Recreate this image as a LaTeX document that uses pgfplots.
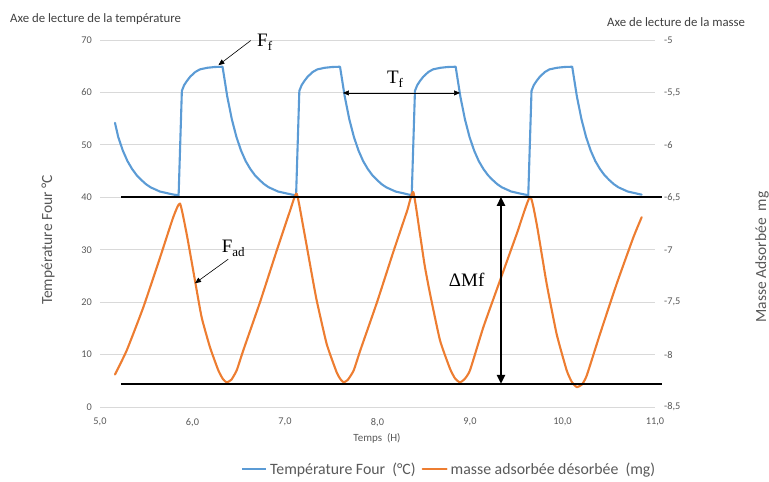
\documentclass[border=0pt]{standalone}
\usepackage{pgfplots}
\pgfplotsset{compat=1.18}
\usepackage{fontspec}
\setmainfont{Carlito}
\newfontfamily\tnr{Liberation Serif}
\usetikzlibrary{arrows.meta}
\definecolor{cblue}{HTML}{5B9BD5}
\definecolor{corange}{HTML}{ED7D31}
\definecolor{tgray}{HTML}{595959}
\definecolor{dgray}{HTML}{404040}
\definecolor{ggray}{HTML}{D9D9D9}
\begin{document}
\begin{tikzpicture}
\useasboundingbox (0,0) rectangle (769pt,482pt);
\begin{axis}[
 at={(100pt,75pt)}, anchor=south west,
 scale only axis, width=555pt, height=367pt,
 xmin=5, xmax=11, ymin=0, ymax=70,
 clip=false,
 axis line style={draw=none},
 major tick length=0pt,
 xtick={5,6,7,8,9,10,11},
 xticklabels={{5,0},{6,0},{7,0},{8,0},{9,0},{10,0},{11,0}},
 ytick={0,10,20,30,40,50,60,70},
 yticklabels={0,10,20,30,40,50,60,70},
 ymajorgrids, grid style={ggray, line width=0.75pt},
 ticklabel style={font=\fontsize{10.3}{12}\selectfont, text=tgray},
 yticklabel style={anchor=east, inner sep=0pt, xshift=-8pt},
 xticklabel style={anchor=north, inner sep=0pt, yshift=-11pt},
]
\addplot[cblue, line width=2.1pt, line join=round, line cap=round] coordinates {
(5.162,54.2) (5.197,51.5) (5.247,48.9) (5.297,46.9) (5.347,45.4) (5.397,44.2) (5.447,43.3) (5.497,42.5) (5.547,41.9) (5.647,41.1) (5.747,40.7) (5.80,40.5)
(5.85,40.4) (5.885,60.3) (5.91,61.4) (5.94,62.2) (5.975,63.0) (6.03,63.9) (6.08,64.4) (6.16,64.7) (6.24,64.85) (6.325,64.9)
(6.375,59.3) (6.425,54.9) (6.475,51.5) (6.525,48.9) (6.575,46.9) (6.625,45.4) (6.675,44.2) (6.725,43.3) (6.775,42.5) (6.825,41.9) (6.925,41.1) (7.025,40.7) (7.08,40.5)
(7.12,40.4) (7.155,60.3) (7.18,61.4) (7.21,62.2) (7.245,63.0) (7.30,63.9) (7.35,64.4) (7.43,64.7) (7.51,64.85) (7.595,64.9)
(7.645,59.3) (7.695,54.9) (7.745,51.5) (7.795,48.9) (7.845,46.9) (7.895,45.4) (7.945,44.2) (7.995,43.3) (8.045,42.5) (8.095,41.9) (8.195,41.1) (8.295,40.7) (8.34,40.5)
(8.37,40.4) (8.405,60.3) (8.43,61.4) (8.46,62.2) (8.495,63.0) (8.55,63.9) (8.60,64.4) (8.68,64.7) (8.76,64.85) (8.845,64.9)
(8.895,59.3) (8.945,54.9) (8.995,51.5) (9.045,48.9) (9.095,46.9) (9.145,45.4) (9.195,44.2) (9.245,43.3) (9.295,42.5) (9.345,41.9) (9.445,41.1) (9.545,40.7) (9.60,40.5)
(9.63,40.4) (9.665,60.3) (9.69,61.4) (9.72,62.2) (9.755,63.0) (9.81,63.9) (9.86,64.4) (9.94,64.7) (10.02,64.85) (10.105,64.9)
(10.155,59.3) (10.205,54.9) (10.255,51.5) (10.305,48.9) (10.355,46.9) (10.405,45.4) (10.455,44.2) (10.505,43.3) (10.555,42.5) (10.605,41.9) (10.705,41.1) (10.805,40.7) (10.856,40.5)
};
\end{axis}
\begin{axis}[
 at={(100pt,75pt)}, anchor=south west,
 scale only axis, width=555pt, height=367pt,
 xmin=5, xmax=11, ymin=-8.5, ymax=-5,
 clip=false,
 hide x axis,
 axis line style={draw=none},
 major tick length=0pt,
 yticklabel pos=right,
 ytick={-8.5,-8,-7.5,-7,-6.5,-6,-5.5,-5},
 yticklabels={{-8,5},{-8},{-7,5},{-7},{-6,5},{-6},{-5,5},{-5}},
 ticklabel style={font=\fontsize{10.3}{12}\selectfont, text=tgray},
 yticklabel style={anchor=west, inner sep=0pt, xshift=9pt},
 legend columns=2,
 legend cell align=left,
 legend image code/.code={\draw[#1] (0pt,0pt) -- (24pt,0pt);},
 legend style={at={(0.629,-0.169)}, anchor=center, draw=none, fill=none,
   font=\fontsize{15.8}{18}\selectfont, text=tgray,
   /tikz/every odd column/.append style={column sep=1pt},
   /tikz/every even column/.append style={column sep=4pt}},
]
\addlegendimage{cblue, line width=2.1pt}
\addlegendentry{Température Four\ \ (°C)}
\addplot[corange, line width=2.1pt, line join=round, line cap=round, smooth, tension=0.3] coordinates {
(5.162,-8.19) (5.289,-7.96) (5.468,-7.55) (5.649,-7.075) (5.792,-6.69) (5.865,-6.56)
(5.937,-6.85) (6.027,-7.295) (6.099,-7.645) (6.189,-7.93) (6.279,-8.15) (6.33,-8.235) (6.37,-8.265) (6.42,-8.24)
(6.478,-8.15) (6.549,-7.96) (6.730,-7.50) (6.910,-7.01) (7.054,-6.63) (7.126,-6.465)
(7.198,-6.785) (7.288,-7.225) (7.343,-7.485) (7.451,-7.90) (7.559,-8.17) (7.60,-8.235) (7.635,-8.265) (7.68,-8.24)
(7.743,-8.15) (7.814,-7.96) (7.995,-7.50) (8.175,-7.01) (8.32,-6.63) (8.387,-6.45)
(8.459,-6.85) (8.51,-7.15) (8.568,-7.42) (8.676,-7.865) (8.784,-8.135) (8.84,-8.23) (8.892,-8.265) (8.94,-8.235)
(9.0,-8.15) (9.144,-7.74) (9.324,-7.295) (9.505,-6.85) (9.649,-6.495)
(9.721,-6.755) (9.829,-7.325) (9.937,-7.805) (10.045,-8.15) (10.10,-8.26) (10.154,-8.31) (10.21,-8.285)
(10.262,-8.20) (10.405,-7.805) (10.586,-7.325) (10.765,-6.885) (10.856,-6.69)
};
\addlegendentry{masse adsorbée désorbée\ \ (mg)}
% horizontal reference lines
\addplot[black, line width=1.9pt, forget plot] coordinates {(5.227,-6.495) (11.076,-6.495)};
\addplot[black, line width=1.9pt, forget plot] coordinates {(5.227,-8.28) (11.076,-8.28)};
% annotations
\draw[-{Triangle[length=6pt,width=5pt]}, line width=0.6pt] (axis cs:6.63,-5.005) -- (axis cs:6.28,-5.24);
\node[font=\tnr\fontsize{19}{20}\selectfont, inner sep=0pt] at (axis cs:6.78,-5.02) {F\raisebox{-4pt}{\fontsize{13}{14}\selectfont f}};
\draw[{Triangle[length=6pt,width=5pt]}-{Triangle[length=6pt,width=5pt]}, line width=0.6pt] (axis cs:7.627,-5.505) -- (axis cs:8.892,-5.505);
\node[font=\tnr\fontsize{19}{20}\selectfont, inner sep=0pt] at (axis cs:8.19,-5.37) {T\raisebox{-4pt}{\fontsize{13}{14}\selectfont f}};
\draw[-{Triangle[length=6pt,width=5pt]}, line width=0.6pt] (axis cs:6.387,-7.09) -- (axis cs:6.027,-7.32);
\node[font=\tnr\fontsize{19}{20}\selectfont, inner sep=0pt] at (axis cs:6.44,-6.985) {F\raisebox{-4pt}{\fontsize{13}{14}\selectfont ad}};
\draw[{Triangle[length=9pt,width=8pt]}-{Triangle[length=9pt,width=8pt]}, line width=2pt] (axis cs:9.335,-6.495) -- (axis cs:9.335,-8.28);
\node[font=\tnr\fontsize{19}{20}\selectfont, inner sep=0pt] at (axis cs:8.964,-7.29) {ΔMf};
\end{axis}
\node[rotate=90, font=\fontsize{15.5}{18}\selectfont, text=tgray] at (48pt,242pt) {Température Four °C};
\node[rotate=90, font=\fontsize{15.5}{18}\selectfont, text=tgray] at (762pt,225pt) {Masse Adsorbée\ \ mg};
\node[anchor=west, inner sep=0pt, font=\fontsize{12.8}{15}\selectfont, text=dgray] at (10pt,463pt) {Axe de lecture de la température};
\node[anchor=west, inner sep=0pt, font=\fontsize{12.8}{15}\selectfont, text=dgray] at (607pt,460pt) {Axe de lecture de la masse};
\node[font=\fontsize{11}{13}\selectfont, text=tgray] at (377pt,44pt) {Temps\ \ (H)};
\end{tikzpicture}
\end{document}
